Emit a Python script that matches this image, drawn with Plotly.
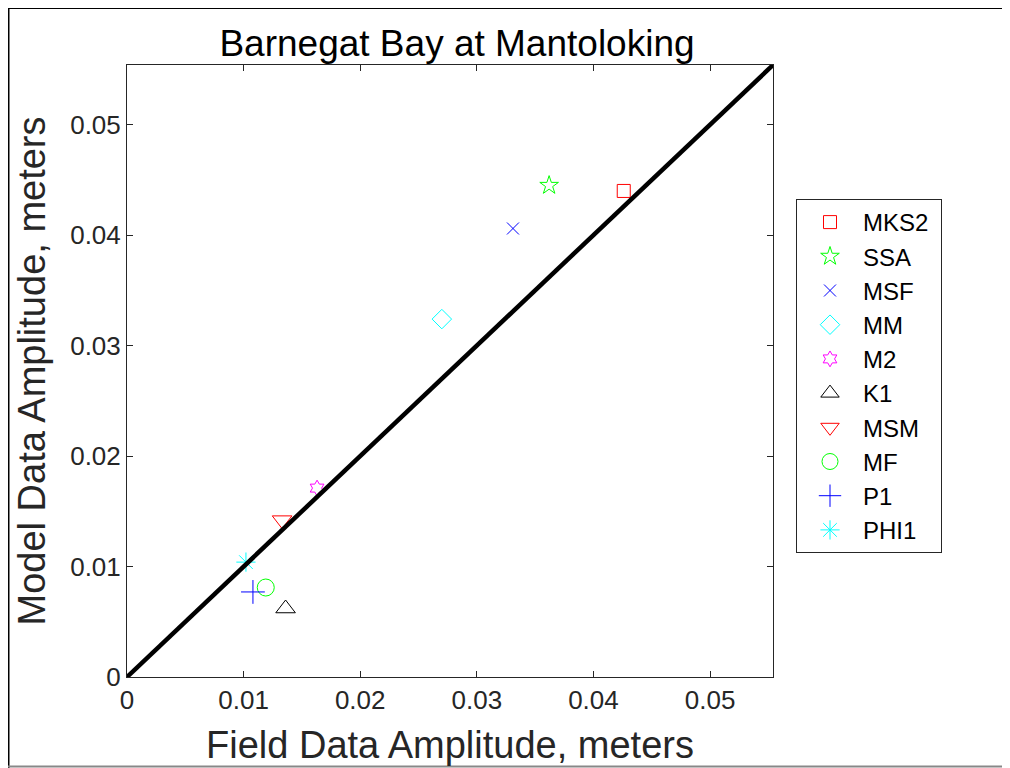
import plotly.graph_objects as go

# Data
constituents = ["MKS2", "SSA", "MSF", "MM", "M2", "K1", "MSM", "MF", "P1", "PHI1"]
field_amp = [0.0426, 0.0362, 0.0331, 0.0270, 0.0163, 0.0136, 0.0133, 0.0119, 0.0108, 0.0102]
model_amp = [0.0440, 0.0445, 0.0406, 0.0324, 0.0171, 0.0062, 0.0142, 0.0081, 0.0077, 0.0104]
colors = ["#FF0000", "#00FF00", "#0000FF", "#00FFFF", "#FF00FF", "#000000",
          "#FF0000", "#00FF00", "#0000FF", "#00FFFF"]
symbols = ["square-open", "star-open", "x-thin-open", "diamond-open", "hexagram-open",
           "triangle-up-open", "triangle-down-open", "circle-open", "cross-thin-open",
           "asterisk-open"]
sizes = [13, 14, 12, 15, 12, 17, 17, 17, 17, 16]

axis_max = 0.0554
tick_vals = [0, 0.01, 0.02, 0.03, 0.04, 0.05]
tick_text = ["0", "0.01", "0.02", "0.03", "0.04", "0.05"]

FONT = "Liberation Sans, Arial, Helvetica, sans-serif"
AX = "#262626"

fig = go.Figure()
for name, xv, yv, c, s, sz in zip(constituents, field_amp, model_amp, colors, symbols, sizes):
    fig.add_trace(go.Scatter(
        x=[xv], y=[yv], mode="markers", name=name + "\u00a0",
        marker=dict(symbol=s, size=sz, color=c, line=dict(color=c, width=1)),
    ))

fig.add_trace(go.Scatter(
    x=[0, axis_max], y=[0, axis_max], mode="lines",
    line=dict(color="black", width=4.5), showlegend=False, hoverinfo="skip",
))

# The page body adds an 8px offset; figure coordinates = page coordinates - 8
OFF = 8
W, H = 1002, 760
L, T = 127 - OFF, 65 - OFF
R = W - (773 - OFF)
B = H - (677 - OFF)
pw, ph = W - L - R, H - T - B

def px(xp):
    return (xp - OFF - L) / pw

def py(yp):
    return (H - B - (yp - OFF)) / ph

axis_common = dict(
    range=[0, axis_max], tickvals=tick_vals, ticktext=tick_text,
    showgrid=False, zeroline=False, showline=True, linecolor=AX, linewidth=1,
    mirror="ticks", ticks="inside", ticklen=6, tickcolor=AX, tickwidth=1,
    tickfont=dict(family=FONT, size=26, color=AX), automargin=False,
)

fig.update_layout(
    width=W, height=H,
    margin=dict(l=L, r=R, t=T, b=B, autoexpand=False),
    paper_bgcolor="white", plot_bgcolor="white",
    title=dict(text="Barnegat Bay at Mantoloking", x=(457 - OFF) / W, xanchor="center",
               y=1 - (43 - OFF) / H, yanchor="middle",
               font=dict(family=FONT, size=37, color="black")),
    xaxis=dict(**axis_common,
               title=dict(text="Field Data Amplitude, meters", standoff=17,
                          font=dict(family=FONT, size=38, color=AX))),
    yaxis=dict(**axis_common,
               title=dict(text="Model Data Amplitude, meters", standoff=12,
                          font=dict(family=FONT, size=38, color=AX))),
    legend=dict(x=px(796), y=py(199), xanchor="left", yanchor="top",
                bgcolor="white", bordercolor=AX, borderwidth=1,
                font=dict(family=FONT, size=24, color="black"),
                itemwidth=56, tracegroupgap=0),
    showlegend=True,
    shapes=[
        dict(type="line", xref="paper", yref="paper", x0=px(7), x1=px(1012),
             y0=py(8), y1=py(8), line=dict(color="black", width=2)),
        dict(type="line", xref="paper", yref="paper", x0=px(8.5), x1=px(8.5),
             y0=py(7), y1=py(770), line=dict(color="black", width=2)),
        dict(type="line", xref="paper", yref="paper", x0=px(7), x1=px(1012),
             y0=py(766.5), y1=py(766.5), line=dict(color="#888888", width=2)),
    ],
)

fig.write_html("out.html")
